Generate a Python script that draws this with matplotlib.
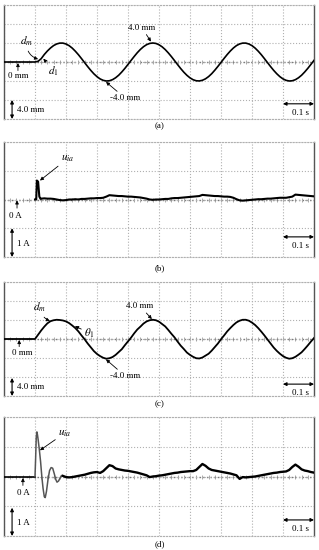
import numpy as np
from matplotlib import pyplot as plt

plt.rcParams['font.family'] = ['Liberation Serif', 'DejaVu Serif']
plt.rcParams['mathtext.fontset'] = 'stix'

# time axis, 0.01 s steps (10 div x 0.1 s)
t = [round(i * 0.01, 2) for i in range(101)]

# (a) displacement, mm
disp_a = [0, 0, 0, 0, 0, 0, 0, 0, 0, 0,
          0.0, 0.15, 0.7, 1.58, 2.32, 2.95, 3.46, 3.80, 3.98, 3.98,
          3.79, 3.44, 2.93, 2.28, 1.54, 0.72, -0.13, -0.97, -1.77, -2.49,
          -3.09, -3.56, -3.86, -4.00, -3.95, -3.72, -3.32, -2.78, -2.10, -1.34,
          -0.51, 0.34, 1.17, 1.96, 2.65, 3.22, 3.65, 3.91, 4.00, 3.91,
          3.63, 3.20, 2.62, 1.92, 1.14, 0.30, -0.55, -1.38, -2.14, -2.80,
          -3.34, -3.73, -3.95, -3.99, -3.85, -3.54, -3.07, -2.46, -1.73, -0.93,
          -0.09, 0.76, 1.57, 2.31, 2.95, 3.46, 3.80, 3.98, 3.98, 3.79,
          3.44, 2.93, 2.28, 1.54, 0.72, -0.13, -0.97, -1.77, -2.48, -3.09,
          -3.56, -3.86, -4.00, -3.95, -3.72, -3.32, -2.78, -2.10, -1.34, -0.51,
          0.34]

# (c) displacement, mm
disp_c = [0, 0, 0, 0, 0, 0, 0, 0, 0, 0,
          0.0, 0.9, 1.8, 2.6, 3.3, 3.75, 3.95, 4.05, 4.0, 3.9,
          3.7, 3.35, 2.85, 2.3, 1.6, 0.75, -0.05, -0.95, -1.75, -2.55,
          -3.15, -3.6, -3.95, -4.15, -4.05, -3.8, -3.35, -2.75, -2.15, -1.3,
          -0.5, 0.3, 1.2, 2.0, 2.6, 3.25, 3.7, 3.95, 4.05, 3.95,
          3.65, 3.15, 2.65, 1.9, 1.1, 0.35, -0.55, -1.4, -2.1, -2.85,
          -3.35, -3.75, -4.05, -4.1, -3.9, -3.5, -3.1, -2.45, -1.7, -0.95,
          -0.05, 0.75, 1.6, 2.3, 2.95, 3.5, 3.85, 4.05, 4.05, 3.85,
          3.45, 2.95, 2.3, 1.55, 0.75, -0.1, -0.95, -1.8, -2.5, -3.1,
          -3.6, -3.95, -4.15, -4.05, -3.75, -3.3, -2.8, -2.1, -1.35, -0.55,
          0.2]

# (b) current, A (spike samples listed separately)
spike_b_t = [0.10, 0.104, 0.106, 0.110, 0.114, 0.118]
spike_b = [0.0, 0.0, 0.66, 0.62, 0.1, 0.02]
cur_b_t = t[12:]
cur_b = [0.03, 0.04, 0.03, 0.03, 0.02, 0.0, -0.02, -0.03,
         -0.02, 0.0, 0.0, 0.01, 0.0, 0.02, 0.02, 0.03, 0.04, 0.04,
         0.05, 0.05, 0.06, 0.10, 0.15, 0.14, 0.13, 0.12, 0.12, 0.11,
         0.10, 0.10, 0.09, 0.08, 0.07, 0.05, 0.03, 0.0, -0.01, 0.0,
         0.0, 0.01, 0.02, 0.02, 0.04, 0.05, 0.05, 0.06, 0.07, 0.08,
         0.09, 0.10, 0.11, 0.12, 0.16, 0.15, 0.14, 0.13, 0.12, 0.12,
         0.11, 0.10, 0.10, 0.09, 0.06, 0.01, -0.03, -0.04, -0.03, -0.02,
         -0.01, 0.0, 0.01, 0.01, 0.02, 0.03, 0.03, 0.04, 0.05, 0.06,
         0.06, 0.06, 0.08, 0.10, 0.17, 0.16, 0.15, 0.14, 0.13, 0.12,
         0.11]

# (d) current, A
osc_d_t = [0.10, 0.102, 0.104, 0.106, 0.108, 0.110, 0.114, 0.118, 0.122, 0.126,
           0.130, 0.133, 0.137, 0.142, 0.147, 0.152, 0.157, 0.162, 0.167, 0.171,
           0.176, 0.181, 0.186]
osc_d = [0.0, 0.6, 1.3, 1.5, 1.4, 1.25, 0.9, 0.5, 0.0, -0.4,
         -0.68, -0.71, -0.5, -0.1, 0.2, 0.3, 0.28, 0.1, -0.1, -0.19,
         -0.15, -0.05, 0.03]
cur_d_t = t[19:]
cur_d = [0.02, -0.02, -0.03, -0.02, 0.0, 0.02, 0.04, 0.06, 0.09, 0.12,
         0.14, 0.15, 0.12, 0.18, 0.28, 0.38, 0.35, 0.27, 0.24, 0.22,
         0.20, 0.19, 0.17, 0.15, 0.13, 0.10, 0.07, 0.04, -0.02, 0.0,
         0.01, 0.03, 0.04, 0.06, 0.08, 0.10, 0.12, 0.13, 0.15, 0.16,
         0.17, 0.18, 0.18, 0.22, 0.32, 0.42, 0.36, 0.27, 0.22, 0.20,
         0.18, 0.16, 0.14, 0.12, 0.10, 0.07, 0.04, -0.08, -0.02, -0.03,
         -0.02, -0.01, 0.0, 0.02, 0.04, 0.06, 0.08, 0.10, 0.12, 0.13,
         0.15, 0.16, 0.17, 0.22, 0.32, 0.40, 0.33, 0.24, 0.20, 0.18,
         0.15, 0.13]

W, H = 319, 550
fig = plt.figure(figsize=(W / 100, H / 100), dpi=100)

FS = 6.5
arrow = dict(arrowstyle='-|>', color='black', lw=0.6, mutation_scale=5,
             shrinkA=0, shrinkB=0)
darrow = dict(arrowstyle='<|-|>', color='black', lw=0.8, mutation_scale=5,
              shrinkA=0, shrinkB=0)


def scope(top, bottom, ndiv, per_div):
    ax = fig.add_axes([4 / W, 1 - bottom / H, 310 / W, (bottom - top) / H])
    half = ndiv / 2 * per_div
    ax.set_xlim(0, 1.0)
    ax.set_ylim(-half, half)
    ax.set_xticks(np.arange(0, 1.01, 0.1))
    ax.set_yticks(np.arange(-half, half + 0.01, per_div))
    ax.grid(True, ls=':', color='#b0b0b0', lw=0.8)
    ax.tick_params(length=0, labelbottom=False, labelleft=False)
    for s in ['top', 'bottom']:
        ax.spines[s].set_linestyle(':')
        ax.spines[s].set_color('#b0b0b0')
        ax.spines[s].set_linewidth(0.8)
    for s in ['left', 'right']:
        ax.spines[s].set_color('#555555')
        ax.spines[s].set_linewidth(1.0)
    ax.axhline(0, ls=':', color='#777777', lw=1.0, zorder=1)
    ticks = np.arange(0.02, 1.0, 0.02)
    ax.plot(ticks, np.zeros_like(ticks), '|', ms=2.2, mew=0.5,
            color='#888888', zorder=1)
    return ax


def scale_marks(ax, y0, y1, ylabel, ytxt, yarr, ytime):
    ax.annotate('', xy=(0.026, y0), xytext=(0.026, y1), arrowprops=darrow)
    ax.text(0.043, ytxt, ylabel, fontsize=FS, va='center', ha='left')
    ax.annotate('', xy=(0.9, yarr), xytext=(1.0, yarr), arrowprops=darrow)
    ax.text(0.955, ytime, '0.1 s', fontsize=FS, va='center', ha='center')


# ---- (a)
ax = scope(5, 119, 6, 4.0)
ax.plot(t, disp_a, color='black', lw=1.2, zorder=3)
ax.annotate('$d_m$', xy=(0.11, 0.6), xytext=(0.074, 4.3), fontsize=8,
            ha='center', va='center',
            arrowprops=dict(arrow, connectionstyle='arc3,rad=0.4'))
ax.annotate('$d_1$', xy=(0.127, 0.7), xytext=(0.16, -1.9), fontsize=8,
            ha='center', va='center', arrowprops=arrow)
ax.annotate('', xy=(0.045, -0.2), xytext=(0.045, -1.8), arrowprops=arrow)
ax.text(0.045, -3.0, '0 mm', fontsize=FS, ha='center', va='center')
ax.annotate('-4.0 mm', xy=(0.329, -4.2), xytext=(0.342, -7.6), fontsize=FS,
            ha='left', va='center', arrowprops=arrow)
ax.annotate('4.0 mm', xy=(0.474, 4.3), xytext=(0.445, 7.2), fontsize=FS,
            ha='center', va='center', arrowprops=arrow)
scale_marks(ax, -8.0, -12.0, '4.0 mm', -10.1, -8.8, -10.7)
fig.text(160 / W, 1 - 126 / H, '(a)', fontsize=FS, ha='center', va='center')

# ---- (b)
ax = scope(142, 257, 4, 1.0)
ax.plot(spike_b_t + cur_b_t, spike_b + cur_b, color='black', lw=1.5, zorder=3)
ax.annotate("$u_{ia}$", xy=(0.116, 0.66), xytext=(0.205, 1.42), fontsize=8,
            ha='center', va='center', arrowprops=arrow)
ax.annotate('', xy=(0.042, -0.03), xytext=(0.042, -0.3), arrowprops=arrow)
ax.text(0.036, -0.56, '0 A', fontsize=FS, ha='center', va='center')
scale_marks(ax, -1.0, -2.0, '1 A', -1.54, -1.3, -1.6)
fig.text(160 / W, 1 - 268 / H, '(b)', fontsize=FS, ha='center', va='center')

# ---- (c)
ax = scope(282, 396, 6, 4.0)
ax.plot(t, disp_c, color='black', lw=1.3, zorder=3)
ax.annotate('$d_m$', xy=(0.148, 3.8), xytext=(0.116, 6.6), fontsize=8,
            ha='center', va='center',
            arrowprops=dict(arrow, connectionstyle='arc3,rad=0.3'))
ax.annotate(r'$\theta_1$', xy=(0.229, 2.7), xytext=(0.275, 1.3), fontsize=8,
            ha='center', va='center', arrowprops=arrow)
ax.annotate('', xy=(0.049, -0.2), xytext=(0.049, -1.6), arrowprops=arrow)
ax.text(0.058, -2.9, '0 mm', fontsize=FS, ha='center', va='center')
ax.annotate('-4.0 mm', xy=(0.329, -4.3), xytext=(0.342, -7.8), fontsize=FS,
            ha='left', va='center', arrowprops=arrow)
ax.annotate('4.0 mm', xy=(0.477, 4.2), xytext=(0.439, 6.9), fontsize=FS,
            ha='center', va='center', arrowprops=arrow)
scale_marks(ax, -8.2, -12.0, '4.0 mm', -10.1, -9.5, -11.3)
fig.text(160 / W, 1 - 404 / H, '(c)', fontsize=FS, ha='center', va='center')

# ---- (d)
ax = scope(417, 536, 4, 1.0)
ax.plot(t[:11], [0] * 11, color='black', lw=1.2, zorder=3)
ax.plot(osc_d_t, osc_d, color='#555555', lw=1.1, zorder=3)
ax.plot(cur_d_t, cur_d, color='black', lw=1.7, zorder=3)
ax.annotate("$u_{ia}$", xy=(0.116, 0.88), xytext=(0.196, 1.46), fontsize=8,
            ha='center', va='center', arrowprops=arrow)
ax.annotate('', xy=(0.061, -0.05), xytext=(0.061, -0.3), arrowprops=arrow)
ax.text(0.061, -0.55, '0 A', fontsize=FS, ha='center', va='center')
scale_marks(ax, -1.05, -2.0, '1 A', -1.56, -1.46, -1.77)
fig.text(160 / W, 1 - 544 / H, '(d)', fontsize=FS, ha='center', va='center')

fig.savefig('out.png', dpi=100)
